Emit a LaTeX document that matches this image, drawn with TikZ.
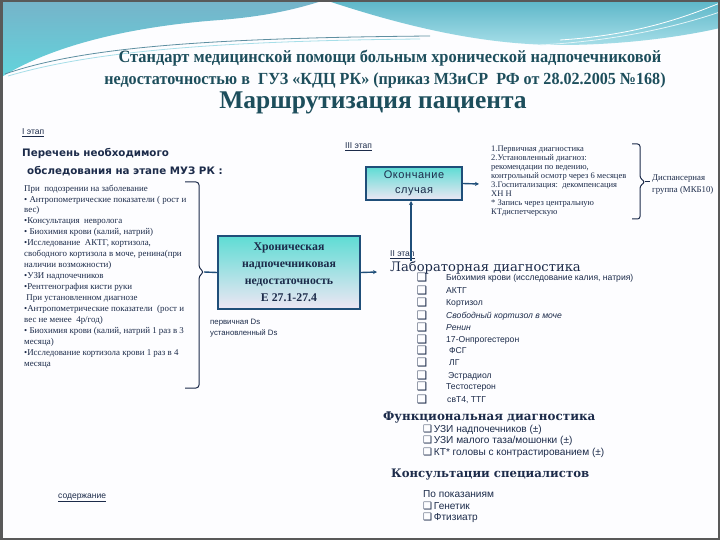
\documentclass[tikz,border=0pt]{standalone}
\usepackage{fontspec}
\setmainfont{Liberation Serif}
\newfontfamily\lsans{Liberation Sans}
\newfontfamily\lsansls[LetterSpace=5]{Liberation Sans}
\newfontfamily\ttlfont[FakeStretch=0.95]{Liberation Serif}
\newfontfamily\djv{DejaVu Sans}
\newfontfamily\djserif{DejaVu Serif}
\usetikzlibrary{arrows.meta}
\definecolor{navy}{HTML}{1C2B4A}
\definecolor{ttl}{HTML}{1D4E5C}
\definecolor{boxline}{HTML}{1F4E79}
\definecolor{gtop}{HTML}{5EDCD4}
\definecolor{gmid}{HTML}{8CB6F0}
\definecolor{gbot}{HTML}{EEE6F4}
\definecolor{wave1}{HTML}{76B3C9}
\definecolor{wave2}{HTML}{62D4DC}
\definecolor{wave3}{HTML}{5CB6C8}
\definecolor{wave4}{HTML}{A6DEE8}
\newcommand\fsz[2]{\fontsize{#1}{#2}\selectfont}
\newcommand\cbx{{\djv ❑}}
\begin{document}
\begin{tikzpicture}[x=1pt,y=-1pt,
  txt/.style={inner sep=0pt, text=navy},
  gbox/.style={draw=boxline, line width=2pt, top color=gtop, middle color=gmid, bottom color=gbot, inner sep=0pt, text=navy},
  conn/.style={draw=boxline, line width=1.4pt},
  lab/.style={txt, anchor=west, font=\lsans\fsz{8.6}{10}},
  cbn/.style={txt, anchor=center, font=\djv\fsz{11.5}{10}},
  fun/.style={txt, anchor=west, font=\lsans\fsz{10.1}{11}},
  small/.style={txt, anchor=west, font=\lsans\fsz{8.5}{9}}
]
\useasboundingbox (0,0) rectangle (720,540);
% background
\fill[white!97!blue!30] (0,0) rectangle (720,540);
% top wave
\shade[top color=wave1, bottom color=wave2] (0,0) -- (0,78) .. controls (60,40) and (150,25) .. (220,20) .. controls (270,16) and (300,8) .. (325,0) -- cycle;
\shade[top color=wave3, bottom color=wave4] (325,0) .. controls (400,25) and (480,45) .. (560,45) .. controls (630,45) and (690,35) .. (720,28) -- (720,0) -- cycle;
\draw[wave1!80!black, line width=0.8pt] (5,74) .. controls (80,48) and (200,38) .. (430,36);
\draw[wave4, line width=0.8pt] (8,76) .. controls (90,52) and (210,41) .. (420,39);
\draw[white, line width=0.8pt] (560,40) .. controls (640,35) and (690,15) .. (720,3);
\draw[white!70!wave4, line width=0.8pt] (540,45) .. controls (630,40) and (690,22) .. (720,12);
% frame
\draw[line width=2.5pt, black!65] (1.25,1.25) rectangle (718.75,538.75);

% titles
\node[txt, text=ttl, font=\ttlfont\bfseries\fsz{17.25}{20}] (t1) at (390,58) {Стандарт медицинской помощи больным хронической надпочечниковой};
\node[txt, text=ttl, font=\ttlfont\bfseries\fsz{16.95}{20}] (t2) at (385,80) {недостаточностью в~~ГУЗ «КДЦ РК» (приказ МЗиСР~~РФ от 28.02.2005 №168)};
\node[txt, text=ttl, font=\bfseries\fsz{25.5}{28}] (t3) at (373,103) {Маршрутизация пациента};

% left column
\node[small] (e1) at (22,133) {\underline{I этап}};
\node[txt, anchor=west, font=\djv\bfseries\fsz{10.3}{13}] (h1) at (22,153) {Перечень необходимого};
\node[txt, anchor=west, font=\djv\bfseries\fsz{10.3}{13}] (h2) at (27,171) {обследования на этапе МУЗ РК :};
\node[txt, anchor=north west, align=left, font=\fsz{8.9}{10.94}] (left) at (24,184.5) {При~~подозрении на заболевание\\
• Антропометрические показатели ( рост и\\
вес)\\
•Консультация~~невролога\\
• Биохимия крови (калий, натрий)\\
•Исследование~~АКТГ, кортизола,\\
свободного кортизола в моче, ренина(при\\
наличии возможности)\\
•УЗИ надпочечников\\
•Рентгенография кисти руки\\
~При установленном диагнозе\\
•Антропометрические показатели~~(рост и\\
вес не менее~~4р/год)\\
• Биохимия крови (калий, натрий 1 раз в 3\\
месяца)\\
•Исследование кортизола крови 1 раз в 4\\
месяца};
\coordinate (b1) at (204,272);
\draw[navy, line width=1pt, rounded corners=3pt] (185,182) -| (199,268) -- (b1) -- (199,276) |- (185,388);

% central box
\node[gbox, minimum width=142pt, minimum height=73pt, align=center, font=\bfseries\fsz{11.8}{17}] (chron) at (289,272.5) {Хроническая\\надпочечниковая\\недостаточность\\Е 27.1-27.4};
\draw[conn] (b1) -- (chron.west);
\node[txt, anchor=west, font=\lsans\fsz{7.8}{8}] (d1) at (210,323) {первичная Ds};
\node[txt, anchor=west, font=\lsans\fsz{7.8}{8}] (d2) at (210,333) {установленный Ds};

% stage III
\node[small] (e3) at (345,147) {\underline{III этап}};
\node[gbox, minimum width=96pt, minimum height=33pt, align=center, font=\lsansls\fsz{11}{15}] (okon) at (414,183.5) {Окончание\\случая};
\coordinate (a2) at (479,184);
\draw[conn, -{Stealth[length=4pt,width=4pt]}] (okon.east) -- (a2);
\node[txt, anchor=north west, align=left, font=\fsz{8.5}{9}] (rt) at (491,146) {1.Первичная диагностика\\
2.Установленный диагноз:\\
рекомендации по ведению,\\
контрольный осмотр через 6 месяцев\\
3.Госпитализация:~~декомпенсация\\
ХН Н\\
* Запись через центральную\\
КТдиспетчерскую};
\coordinate (b2) at (645,182);
\draw[navy, line width=1pt, rounded corners=2.5pt] (632,144) -| (640,178) -- (b2) -- (640,186) |- (632,219);
\coordinate (b3) at (650,182);
\draw[navy, line width=1pt] (b2) -- (b3);
\node[txt, anchor=west, font=\fsz{8.8}{9}] (disp1) at (652,179) {Диспансерная};
\node[txt, anchor=west, font=\fsz{8.8}{9}] (disp2) at (652,190) {группа (МКБ10)};

% stage II
\coordinate (a1) at (377,272);
\draw[conn, -{Stealth[length=4pt,width=4pt]}] (chron.east) -- (a1);
\node[small] (e2) at (390,255) {\underline{II этап}};
\coordinate (v1) at (411,261);
\draw[conn, -{Stealth[length=4pt,width=4pt]}] (v1) -- (v1 |- okon.south);
\node[txt, anchor=west, font=\djserif\fsz{13.1}{16}] (labt) at (390,267.5) {Лабораторная диагностика};

\node[cbn] (c1) at (422,278) {❑};  \node[lab] (l1) at (446,278) {Биохимия крови (исследование калия, натрия)};
\node[cbn] (c2) at (422,291) {❑};  \node[lab] (l2) at (446,291) {АКТГ};
\node[cbn] (c3) at (422,303) {❑};  \node[lab] (l3) at (446,303) {Кортизол};
\node[cbn] (c4) at (422,316) {❑};  \node[lab] (l4) at (446,316) {\itshape Свободный кортизол в моче};
\node[cbn] (c5) at (422,328) {❑};  \node[lab] (l5) at (446,328) {\itshape Ренин};
\node[cbn] (c6) at (422,340) {❑};  \node[lab] (l6) at (446,340) {17-Онпрогестерон};
\node[cbn] (c7) at (422,351) {❑};  \node[lab] (l7) at (449,351) {ФСГ};
\node[cbn] (c8) at (422,363) {❑};  \node[lab] (l8) at (449,363) {ЛГ};
\node[cbn] (c9) at (422,376) {❑};  \node[lab] (l9) at (448,376) {Эстрадиол};
\node[cbn] (c10) at (422,387) {❑}; \node[lab] (l10) at (446,387) {Тестостерон};
\node[cbn] (c11) at (422,400) {❑}; \node[lab] (l11) at (447,400) {свТ4, ТТГ};

% functional
\node[txt, anchor=west, font=\djserif\bfseries\fsz{11.9}{15}] (funt) at (383,417) {Функциональная диагностика};
\node[fun] (f1) at (423,430) {\cbx\,УЗИ надпочечников (±)};
\node[fun] (f2) at (423,441) {\cbx\,УЗИ малого таза/мошонки (±)};
\node[fun] (f3) at (423,453) {\cbx\,КТ* головы с контрастированием (±)};

% consultations
\node[txt, anchor=west, font=\djserif\bfseries\fsz{11.7}{15}] (kons) at (391,475) {Консультации специалистов};
\node[fun] (k0) at (423,494) {По показаниям};
\node[fun] (k1) at (423,506) {\cbx\,Генетик};
\node[fun] (k2) at (423,518) {\cbx\,Фтизиатр};

\node[small] (sod) at (58,498) {\underline{содержание}};
\end{tikzpicture}
\end{document}
